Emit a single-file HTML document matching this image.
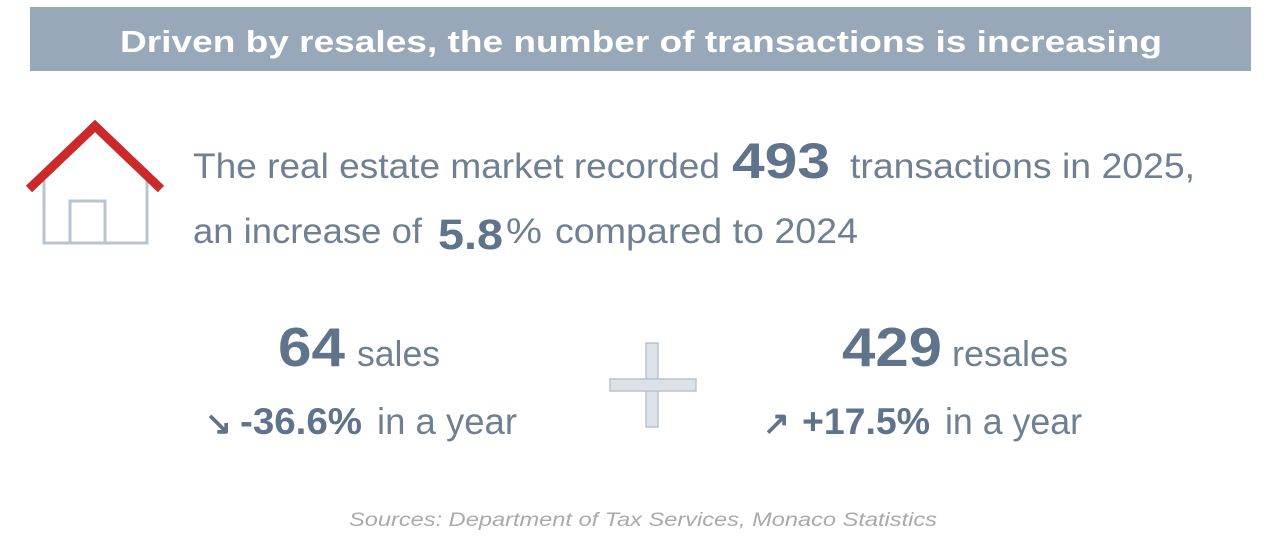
<!DOCTYPE html>
<html><head><meta charset="utf-8"><style>
html,body{margin:0;padding:0;background:#fff;width:1266px;height:548px;overflow:hidden}
svg{display:block}
text{font-family:"Liberation Sans",Arial,sans-serif;fill:#6f8092}
.b{font-weight:bold;fill:#5f748a}
</style></head><body>
<svg width="1266" height="548" viewBox="0 0 1266 548">
<rect x="30" y="7" width="1221" height="64" fill="#98a8b8"/>
<text x="120" y="52" font-size="31" font-weight="bold" style="fill:#fff" textLength="1042" lengthAdjust="spacingAndGlyphs">Driven by resales, the number of transactions is increasing</text>

<!-- house -->
<polyline points="44,180 44,243 147,243 147,180" fill="none" stroke="#b8c4d0" stroke-width="3"/>
<polyline points="70,243 70,201 105,201 105,243" fill="none" stroke="#b8c4d0" stroke-width="3"/>
<polyline points="29,189 95,126 161,189" fill="none" stroke="#cc2a2a" stroke-width="9" stroke-linejoin="miter"/>

<text x="193" y="178" font-size="35" textLength="527" lengthAdjust="spacingAndGlyphs">The real estate market recorded</text>
<text x="732" y="178" font-size="50" class="b" textLength="98" lengthAdjust="spacingAndGlyphs">493</text>
<text x="850" y="178" font-size="35" textLength="345" lengthAdjust="spacingAndGlyphs">transactions in 2025,</text>

<text x="193" y="243" font-size="35" textLength="229" lengthAdjust="spacingAndGlyphs">an increase of</text>
<text x="438" y="249" font-size="43" class="b" textLength="65" lengthAdjust="spacingAndGlyphs">5.8</text>
<text x="506" y="243" font-size="35" textLength="36" lengthAdjust="spacingAndGlyphs">%</text>
<text x="555" y="243" font-size="35" textLength="303" lengthAdjust="spacingAndGlyphs">compared to 2024</text>

<text x="278" y="366" font-size="55" class="b" textLength="67" lengthAdjust="spacingAndGlyphs">64</text>
<text x="357" y="366" font-size="36" textLength="83" lengthAdjust="spacingAndGlyphs">sales</text>
<text x="205" y="434" font-size="32" class="b">↘</text>
<text x="240" y="434" font-size="37" class="b" textLength="122" lengthAdjust="spacingAndGlyphs">-36.6%</text>
<text x="377" y="434" font-size="37" textLength="140" lengthAdjust="spacingAndGlyphs">in a year</text>

<rect x="646" y="343" width="12" height="84" fill="#dde2e9" stroke="#b8c3cf" stroke-width="1.5"/>
<rect x="610" y="379" width="86" height="12" fill="#dde2e9" stroke="#b8c3cf" stroke-width="1.5"/>
<rect x="647" y="380" width="10" height="10" fill="#dde2e9"/>

<text x="842" y="366" font-size="55" class="b" textLength="100" lengthAdjust="spacingAndGlyphs">429</text>
<text x="952" y="366" font-size="36" textLength="116" lengthAdjust="spacingAndGlyphs">resales</text>
<text x="763" y="434" font-size="32" class="b">↗</text>
<text x="802" y="434" font-size="37" class="b" textLength="128" lengthAdjust="spacingAndGlyphs">+17.5%</text>
<text x="945" y="434" font-size="37" textLength="137" lengthAdjust="spacingAndGlyphs">in a year</text>

<text x="349" y="526" font-size="19" font-style="italic" style="fill:#aaaaaa" textLength="588" lengthAdjust="spacingAndGlyphs">Sources: Department of Tax Services, Monaco Statistics</text>
</svg>
</body></html>
